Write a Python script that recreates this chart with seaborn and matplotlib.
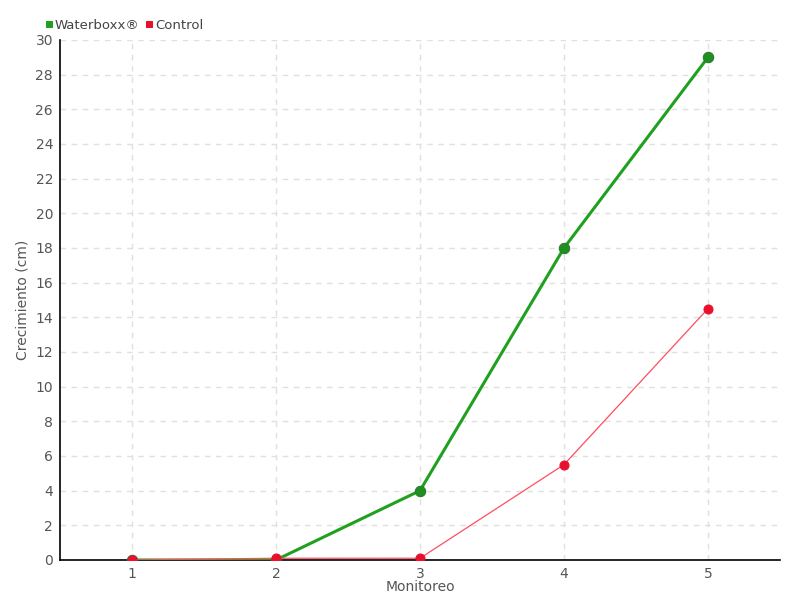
import pandas as pd
import numpy as np
import matplotlib
matplotlib.use('Agg')
import matplotlib.pyplot as plt
import seaborn as sns

monitoreo = [1, 2, 3, 4, 5]
waterboxx = [0, 0, 4, 18, 29]
control = [0, 0.1, 0.1, 5.5, 14.5]

df = pd.DataFrame({'Monitoreo': monitoreo, 'Waterboxx®': waterboxx, 'Control': control})

sns.set_style('white')
plt.rcParams['font.family'] = ['DejaVu Sans']

fig = plt.figure(figsize=(8, 6), dpi=100)
ax = fig.add_axes([0.075, 0.0667, 0.9, 0.8667])

sns.lineplot(data=df, x='Monitoreo', y='Waterboxx®', ax=ax, color='#1fa01f', linewidth=2.2,
             marker='o', markersize=7.5, markerfacecolor='#1f8f1f', markeredgecolor='#2a7a2a',
             label='Waterboxx®', zorder=3)
sns.lineplot(data=df, x='Monitoreo', y='Control', ax=ax, color='#ff4d5e', linewidth=0.9,
             marker='o', markersize=6.5, markerfacecolor='#e8112d', markeredgecolor='#e8112d',
             label='Control', zorder=4)

ax.set_xlim(0.5, 5.5)
ax.set_ylim(0, 30)
ax.set_xticks(monitoreo)
ax.set_yticks(np.arange(0, 31, 2))
ax.grid(True, linestyle=(0, (4, 4)), color='#e0e0e0', linewidth=1)
for s in ['top', 'right']:
    ax.spines[s].set_visible(False)
for s in ['left', 'bottom']:
    ax.spines[s].set_color('black')
    ax.spines[s].set_linewidth(1.2)
ax.tick_params(axis='both', colors='#555555', labelsize=10, length=4, width=1, direction='out', pad=1)
ax.tick_params(axis='both', color='#333333')
ax.set_xlabel('Monitoreo', fontsize=10, color='#555555', labelpad=-1)
ax.set_ylabel('Crecimiento (cm)', fontsize=10, color='#555555', labelpad=4)

leg = ax.legend(loc='lower left', bbox_to_anchor=(-0.03, 1.0), ncol=2, frameon=False,
                handlelength=0.4, handletextpad=0.25, columnspacing=0.5, fontsize=9.5,
                borderaxespad=0.2)
for h, c in zip(leg.legend_handles, ['#1fa01f', '#e8112d']):
    h.set_linestyle('none')
    h.set_marker('s')
    h.set_markersize(5)
    h.set_markerfacecolor(c)
    h.set_markeredgecolor(c)
for t in leg.get_texts():
    t.set_color('#444444')

fig.savefig('out.png', dpi=100)
